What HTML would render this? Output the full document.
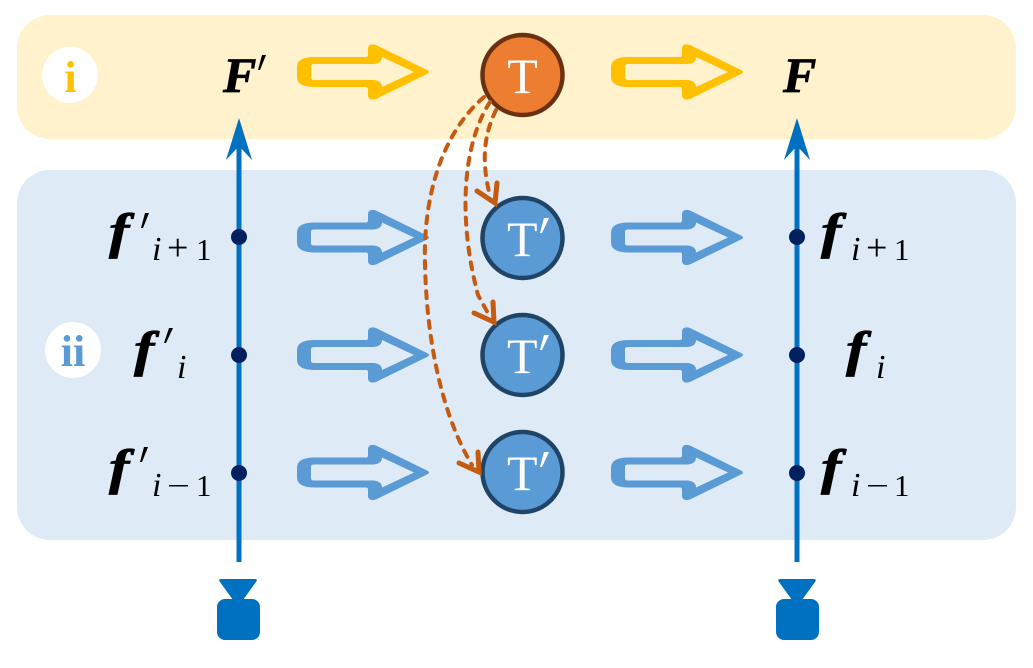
<!DOCTYPE html>
<html>
<head>
<meta charset="utf-8">
<style>
html,body{margin:0;padding:0;background:#fff;width:1033px;height:668px;overflow:hidden}
svg{display:block}
.ser{font-family:"Liberation Serif",serif}
.bi{font-family:"Liberation Serif",serif;font-weight:bold;font-style:italic;fill:#000;stroke:#000;stroke-width:.8}
.it{font-family:"Liberation Serif",serif;font-style:italic;fill:#000}
.rm{font-family:"Liberation Serif",serif;fill:#000}
</style>
</head>
<body>
<svg width="1033" height="668" viewBox="0 0 1033 668" xmlns="http://www.w3.org/2000/svg">
<defs>
<path id="blk" fill-rule="evenodd" d="M297 -5 Q297 -15 315 -15 L366 -15 Q368 -15 368 -17 L368 -24 Q369 -29 376 -27 L427 -2 Q431 0 427 2 L376 27 Q369 29 368 24 L368 17 Q368 15 366 15 L315 15 Q297 15 297 5 Z M311 -6 L311 6 Q311 8 314 8 L374 8 Q382 9 382 15 L414 0 L382 -15 Q382 -9 374 -8 L314 -8 Q311 -8 311 -6 Z"/>
<g id="cam" fill="#0070C0">
<path d="M221 579 L255 579 Q258 579 256 582 L243 600 L233 600 L220 582 Q218 579 221 579 Z"/>
<rect x="217" y="599" width="43" height="41" rx="8"/>
</g>
</defs>

<rect x="17" y="15" width="999" height="124" rx="33" fill="#FFF2CC"/>
<rect x="17" y="170" width="999" height="370" rx="33" fill="#DEEAF6"/>

<circle cx="70" cy="75" r="28" fill="#fff"/>
<circle cx="73" cy="350" r="28" fill="#fff"/>
<text x="70.500" y="92" text-anchor="middle" class="ser" font-weight="bold" font-size="44" fill="#FFC000">i</text>
<text x="73" y="366" text-anchor="middle" class="ser" font-weight="bold" font-size="44" fill="#5B9BD5">ii</text>

<!-- vertical axes -->
<line x1="239" y1="140" x2="239" y2="562" stroke="#0070C0" stroke-width="5"/>
<line x1="797" y1="140" x2="797" y2="562" stroke="#0070C0" stroke-width="5"/>
<path d="M239 118 L252 160 L239 146 L226 160 Z" fill="#0070C0"/>
<path d="M797 118 L810 160 L797 146 L784 160 Z" fill="#0070C0"/>
<g fill="#002060">
<circle cx="239" cy="237" r="8"/><circle cx="239" cy="355" r="8"/><circle cx="239" cy="473" r="8"/>
<circle cx="797" cy="237" r="8"/><circle cx="797" cy="355" r="8"/><circle cx="797" cy="473" r="8"/>
</g>
<use href="#cam"/>
<use href="#cam" transform="translate(559 0)"/>

<!-- block arrows -->
<g fill="#FFC000">
<use href="#blk" transform="translate(0 72)"/>
<use href="#blk" transform="translate(314 72)"/>
</g>
<g fill="#5B9BD5">
<use href="#blk" transform="translate(0 237.500)"/>
<use href="#blk" transform="translate(314 237.500)"/>
<use href="#blk" transform="translate(0 355)"/>
<use href="#blk" transform="translate(314 355)"/>
<use href="#blk" transform="translate(0 472.500)"/>
<use href="#blk" transform="translate(314 472.500)"/>
</g>

<!-- circles -->
<circle cx="522.500" cy="75" r="40" fill="#ED7D31" stroke="#6A3111" stroke-width="4.500"/>
<circle cx="522.500" cy="238" r="40" fill="#5B9BD5" stroke="#1F4465" stroke-width="4.500"/>
<circle cx="522.500" cy="355" r="40" fill="#5B9BD5" stroke="#1F4465" stroke-width="4.500"/>
<circle cx="522.500" cy="472" r="40" fill="#5B9BD5" stroke="#1F4465" stroke-width="4.500"/>
<text x="522.500" y="93" text-anchor="middle" class="ser" font-size="50" fill="#fff">T</text>
<g class="ser" font-size="50" fill="#fff">
<text x="507" y="256">T</text>
<text x="507" y="373">T</text>
<text x="507" y="490">T</text>
</g>
<g fill="#fff">
<path d="M544 218 L549 218 L542 233 L540 233 Z"/>
<path d="M544 335 L549 335 L542 350 L540 350 Z"/>
<path d="M544 452 L549 452 L542 467 L540 467 Z"/>
</g>

<!-- dashed curves -->
<g fill="none" stroke="#C55A11" stroke-width="4" stroke-dasharray="7 8" stroke-linecap="round">
<path d="M484 97 C440 135 423 200 425 265 C427 350 445 420 472 465"/>
<path d="M490 102 C462 145 458 220 478 295 L489 315"/>
<path d="M496 110 C484 135 481 160 490 196"/>
</g>
<g fill="none" stroke="#C55A11" stroke-width="5" stroke-linejoin="miter" stroke-linecap="round">
<path d="M477 191 L495 203 L497 183"/>
<path d="M474 313 L494 322 L493 302"/>
<path d="M459 463 L479 472 L478 452"/>
</g>

<!-- labels -->
<text x="223" y="92" class="bi" font-size="50">F</text>
<text x="783" y="92" class="bi" font-size="50">F</text>
<g fill="#000">
<path d="M262 55 L266 55 L260 70 L258 70 Z"/>
<path d="M145 213 L149 213 L143 228 L141 228 Z"/>
<path d="M169 328 L173 328 L166 343 L164 343 Z"/>
<path d="M144 447 L148 447 L142 462 L140 462 Z"/>
</g>

<text transform="translate(109 248) scale(1.22 1)" class="bi" font-size="50">f</text>
<text transform="translate(134 366) scale(1.22 1)" class="bi" font-size="50">f</text>
<text transform="translate(109 484) scale(1.22 1)" class="bi" font-size="50">f</text>
<text transform="translate(821 248) scale(1.22 1)" class="bi" font-size="50">f</text>
<text transform="translate(846 366) scale(1.22 1)" class="bi" font-size="50">f</text>
<text transform="translate(821 484) scale(1.22 1)" class="bi" font-size="50">f</text>

<g font-size="34" class="it">
<text x="152" y="260">i</text>
<text x="177" y="378">i</text>
<text x="152" y="496">i</text>
<text x="851" y="260">i</text>
<text x="876" y="378">i</text>
<text x="851" y="496">i</text>
</g>
<g class="rm" font-size="38">
<text x="167" y="260">+</text>
<text x="866" y="260">+</text>
</g>
<g class="rm" font-size="31">
<text x="167" y="496" textLength="23" lengthAdjust="spacingAndGlyphs">−</text>
<text x="866" y="496" textLength="23" lengthAdjust="spacingAndGlyphs">−</text>
<text x="196" y="260">1</text>
<text x="196" y="496">1</text>
<text x="894" y="260">1</text>
<text x="894" y="496">1</text>
</g>
</svg>
</body>
</html>
